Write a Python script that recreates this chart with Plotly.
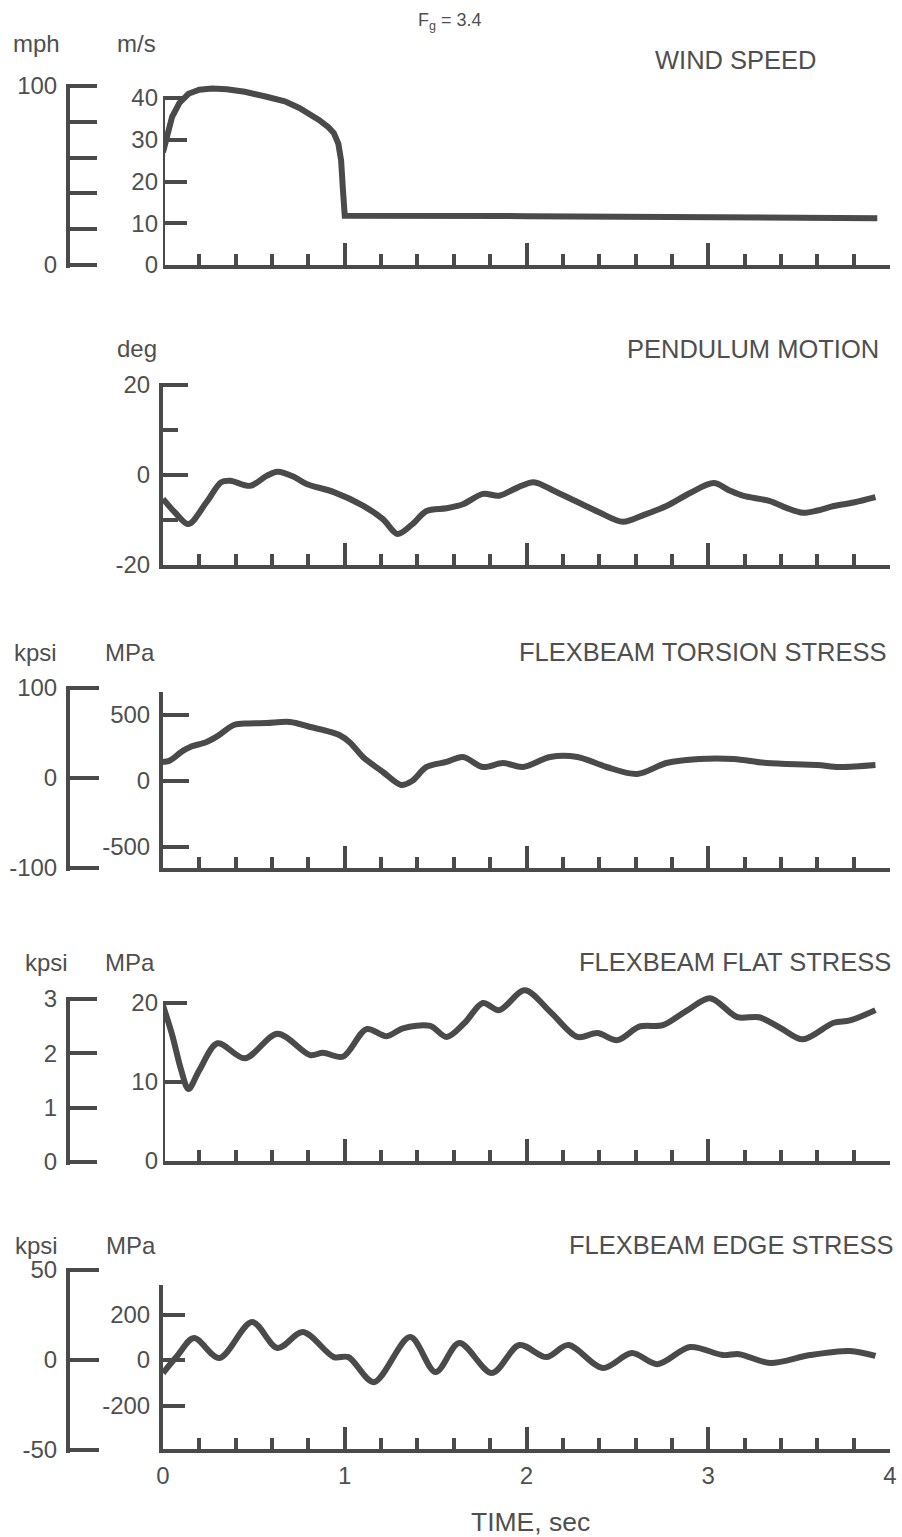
import plotly.graph_objects as go

# ---------------------------------------------------------------- data
wind_t = [0.0, 0.02, 0.05, 0.09, 0.14, 0.2, 0.27, 0.35, 0.45, 0.57, 0.67, 0.75,
          0.81, 0.86, 0.91, 0.94, 0.965, 0.98, 0.99, 1.0, 2.0, 3.0, 3.93]
wind_ms = [27.0, 31.0, 35.5, 38.8, 41.0, 42.0, 42.3, 42.1, 41.5, 40.3, 39.2, 37.6,
           36.2, 34.7, 33.0, 31.6, 29.0, 25.0, 18.0, 11.8, 11.7, 11.4, 11.2]

pend_t = [0.0, 0.07, 0.14, 0.24, 0.32, 0.37, 0.48, 0.57, 0.63, 0.72, 0.79, 0.94,
          1.10, 1.21, 1.29, 1.37, 1.45, 1.56, 1.65, 1.76, 1.85, 1.95, 2.04, 2.15,
          2.28, 2.40, 2.53, 2.65, 2.77, 2.90, 3.03, 3.12, 3.19, 3.34, 3.43, 3.52,
          3.60, 3.69, 3.80, 3.92]
pend_deg = [-5.3, -8.5, -10.9, -6.0, -1.6, -1.3, -2.4, -0.2, 0.7, -0.4, -2.0, -3.8,
            -6.8, -9.8, -13.1, -11.0, -8.0, -7.4, -6.5, -4.2, -4.6, -2.8, -1.6, -3.5,
            -6.0, -8.3, -10.4, -8.8, -6.9, -4.0, -1.8, -3.5, -4.6, -5.8, -7.3, -8.4,
            -7.9, -6.9, -6.1, -4.9]

tors_t = [0.0, 0.03, 0.06, 0.10, 0.15, 0.24, 0.30, 0.39, 0.47, 0.57, 0.70, 0.81,
          0.90, 0.97, 1.03, 1.10, 1.21, 1.31, 1.37, 1.45, 1.56, 1.65, 1.76, 1.87,
          1.98, 2.13, 2.28, 2.44, 2.61, 2.77, 2.95, 3.14, 3.32, 3.60, 3.72, 3.92]
tors_mpa = [144, 150, 175, 220, 258, 295, 340, 424, 436, 439, 447, 409,
            380, 348, 290, 182, 68, -30, 0, 106, 144, 182, 106, 136,
            106, 182, 182, 106, 53, 136, 167, 167, 136, 121, 106, 121]

flat_t = [0.0, 0.05, 0.10, 0.14, 0.20, 0.30, 0.45, 0.63, 0.81, 0.88, 0.99, 1.12,
          1.23, 1.32, 1.47, 1.56, 1.66, 1.76, 1.85, 1.99, 2.13, 2.28, 2.39, 2.50,
          2.62, 2.75, 2.88, 3.01, 3.16, 3.28, 3.40, 3.52, 3.69, 3.78, 3.92]
flat_mpa = [19.7, 16.0, 11.5, 9.1, 11.5, 14.9, 13.0, 16.1, 13.4, 13.7, 13.2, 16.7,
            15.8, 16.8, 17.1, 15.7, 17.5, 20.0, 19.1, 21.6, 18.9, 15.7, 16.2, 15.3,
            17.0, 17.2, 19.0, 20.6, 18.2, 18.2, 16.8, 15.4, 17.5, 17.8, 19.1]

edge_t = [0.0, 0.08, 0.17, 0.31, 0.49, 0.63, 0.77, 0.94, 1.02, 1.16, 1.36, 1.50,
          1.63, 1.81, 1.96, 2.11, 2.23, 2.42, 2.58, 2.72, 2.90, 3.08, 3.17, 3.34,
          3.56, 3.78, 3.92]
edge_mpa = [-57, 20, 97, 9, 167, 53, 123, 13, 13, -97, 101, -53,
            75, -57, 66, 13, 66, -35, 31, -18, 57, 22, 26, -13,
            22, 40, 18]

time_ticks = [0, 1, 2, 3, 4]

# unit conversions for the imperial scales
MS_TO_MPH = 2.23694
MPA_TO_KPSI = 1 / 6.89476

# ---------------------------------------------------------------- styling
W, H = 902, 1537
INK = "#4a4a4a"
TXT = "#4f4f4f"
FONT = "Liberation Sans, Arial, sans-serif"
PAD = 2.5  # px of headroom so end ticks are not dropped by the renderer


def fx(px):
    return px / W


def fy(py):
    return 1 - py / H


def labels(vals):
    # plain hyphen-minus for negative numbers
    return [("-" + str(abs(v))) if v < 0 else str(v) for v in vals]


def padded(rng, bot, top):
    """Widen a value range and its pixel span by PAD pixels at both ends."""
    lo, hi = rng
    per_px = (hi - lo) / (bot - top)
    d = PAD * per_px
    return [lo - d, hi + d], [fy(bot + PAD), fy(top - PAD)]


X_DOM = [fx(163), fx(890)]

fig = go.Figure()

panels = [
    dict(t=wind_t, y=wind_ms, rng=[0, 44], bot=265, top=265 - 44 * 4.175,
         ticks=[0, 10, 20, 30, 40], minor=None, tlen=24, spine=40, shape="linear"),
    dict(t=pend_t, y=pend_deg, rng=[-20, 20], bot=565, top=385,
         ticks=[-20, 0, 20], minor=10, tlen=25, spine=None, shape="spline"),
    dict(t=tors_t, y=tors_mpa, rng=[-659, 674], bot=868, top=692,
         ticks=[-500, 0, 500], minor=None, tlen=26, spine=None, shape="spline"),
    dict(t=flat_t, y=flat_mpa, rng=[0, 23], bot=1161, top=1161 - 23 * 7.9,
         ticks=[0, 10, 20], minor=None, tlen=24, spine=20, shape="spline"),
    dict(t=edge_t, y=edge_mpa, rng=[-391, 330], bot=1449, top=1285,
         ticks=[-200, 0, 200], minor=None, tlen=22, spine=None, shape="spline"),
]

# imperial scales drawn at the far left of their panels
second = [
    dict(panel=1, k=MS_TO_MPH, rng=[0, 100], bot=265, top=86, ticks=[0, 100], minor=20, tlen=27),
    dict(panel=3, k=MPA_TO_KPSI, rng=[-100, 100], bot=868, top=688, ticks=[-100, 0, 100], minor=None, tlen=29),
    dict(panel=4, k=MPA_TO_KPSI, rng=[0, 3], bot=1162, top=999, ticks=[0, 1, 2, 3], minor=None, tlen=27),
    dict(panel=5, k=MPA_TO_KPSI, rng=[-50, 50], bot=1450, top=1270, ticks=[-50, 0, 50], minor=None, tlen=29),
]

layout = dict(
    template="none",
    width=W, height=H, margin=dict(l=0, r=0, t=0, b=0, autoexpand=False),
    paper_bgcolor="white", plot_bgcolor="rgba(0,0,0,0)",
    showlegend=False, font=dict(family=FONT, color=TXT, size=24),
)
shapes = []

for i, p in enumerate(panels, start=1):
    xs = "" if i == 1 else str(i)
    fig.add_trace(go.Scatter(
        x=p["t"], y=p["y"], mode="lines", xaxis="x" + xs, yaxis="y" + xs,
        line=dict(color=INK, width=6, shape=p["shape"], smoothing=0.9),
        hoverinfo="skip"))
    layout["xaxis" + xs] = dict(
        domain=X_DOM, range=[0, 4], anchor="y" + xs, showgrid=False, zeroline=False,
        automargin=False, showline=True, linewidth=4, linecolor=INK,
        ticks="inside", tickvals=time_ticks, ticktext=labels(time_ticks),
        ticklen=22, tickwidth=4, tickcolor=INK,
        minor=dict(ticks="inside", tick0=0, dtick=0.2, ticklen=11, tickwidth=4,
                   tickcolor=INK, showgrid=False),
        showticklabels=(i == 5), tickfont=dict(size=24, color=TXT),
        ticklabelstandoff=2,
    )
    if p["spine"] is None and p["rng"][1] in p["ticks"]:
        # top tick sits on the range end: give it a little headroom
        rng, dom = padded(p["rng"], p["bot"], p["top"])
        rng[0], dom[0] = p["rng"][0], fy(p["bot"])
    else:
        rng, dom = p["rng"], [fy(p["bot"]), fy(p["top"])]
    yax = dict(
        domain=dom, range=rng, anchor="x" + xs, showgrid=False, zeroline=False,
        automargin=False, showline=p["spine"] is None, linewidth=4, linecolor=INK,
        ticks="inside", tickvals=p["ticks"], ticktext=labels(p["ticks"]),
        ticklen=p["tlen"], tickwidth=4, tickcolor=INK,
        tickfont=dict(size=24, color=TXT), ticklabelstandoff=4,
    )
    if p["minor"]:
        yax["minor"] = dict(ticks="inside", dtick=p["minor"], ticklen=15, tickwidth=4,
                            tickcolor=INK, showgrid=False)
    layout["yaxis" + xs] = yax
    if p["spine"] is not None:
        shapes.append(dict(type="line", xref="x" + xs, yref="y" + xs,
                           x0=0, x1=0, y0=p["rng"][0], y1=p["spine"],
                           line=dict(color=INK, width=4)))

for j, s in enumerate(second, start=6):
    src = panels[s["panel"] - 1]
    xs = "" if s["panel"] == 1 else str(s["panel"])
    # same series in imperial units; invisible, it only carries the scale
    fig.add_trace(go.Scatter(
        x=src["t"], y=[v * s["k"] for v in src["y"]], mode="lines",
        xaxis="x" + xs, yaxis="y" + str(j), opacity=0,
        line=dict(width=0), hoverinfo="skip"))
    rng, dom = padded(s["rng"], s["bot"], s["top"])
    ax = dict(
        domain=dom, range=rng, anchor="free",
        position=fx(68), side="left", showgrid=False, zeroline=False,
        automargin=False, showline=True, linewidth=4, linecolor=INK,
        ticks="inside", tickvals=s["ticks"], ticktext=labels(s["ticks"]),
        ticklen=s["tlen"], tickwidth=4, tickcolor=INK,
        tickfont=dict(size=24, color=TXT), ticklabelstandoff=4,
    )
    if s["minor"]:
        ax["minor"] = dict(ticks="inside", dtick=s["minor"], ticklen=s["tlen"], tickwidth=4,
                           tickcolor=INK, showgrid=False)
    layout["yaxis" + str(j)] = ax

layout["shapes"] = shapes


def txt(text, x, y, anchor="center", size=24):
    return dict(text=text, x=fx(x), y=fy(y), xref="paper", yref="paper",
                xanchor=anchor, yanchor="middle", showarrow=False,
                font=dict(family=FONT, size=size, color=TXT))


TITLE = 25.5
layout["annotations"] = [
    txt("F<sub>g</sub> = 3.4", 450, 22, size=18),
    txt("mph", 36, 44), txt("m/s", 136, 44),
    txt("WIND SPEED", 819, 60, "right", TITLE),
    txt("deg", 137, 349),
    txt("PENDULUM MOTION", 881, 349, "right", TITLE),
    txt("kpsi", 35, 652), txt("MPa", 130, 652),
    txt("FLEXBEAM TORSION STRESS", 888, 652, "right", TITLE),
    txt("kpsi", 46, 962), txt("MPa", 130, 962),
    txt("FLEXBEAM FLAT STRESS", 893, 962, "right", TITLE),
    txt("kpsi", 36, 1245), txt("MPa", 131, 1245),
    txt("FLEXBEAM EDGE STRESS", 896, 1245, "right", TITLE),
    txt("TIME, sec", 530, 1522, size=26.5),
]

fig.update_layout(**layout)
fig.write_html("out.html")
